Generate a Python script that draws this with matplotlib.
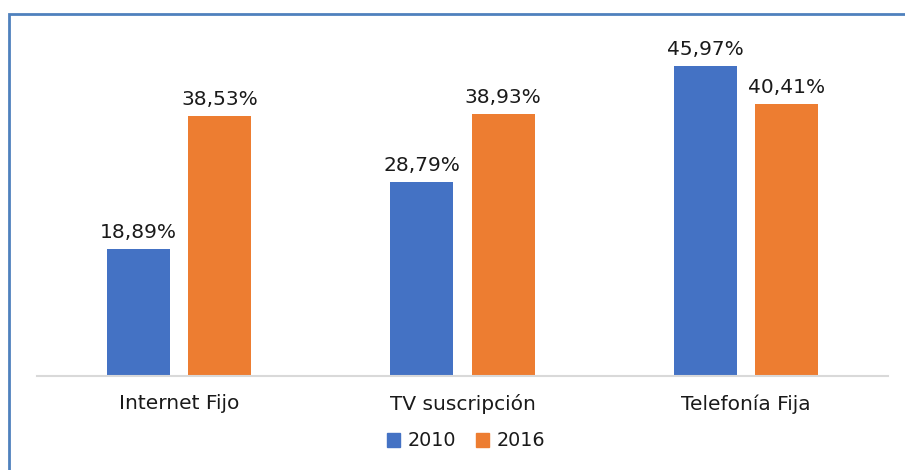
import matplotlib
matplotlib.use("Agg")
import matplotlib.pyplot as plt
from matplotlib.patches import Patch, Rectangle
import numpy as np

# Data
categories = ['Internet Fijo', 'TV suscripción', 'Telefonía Fija']
vals_2010 = [18.89, 28.79, 45.97]
vals_2016 = [38.53, 38.93, 40.41]
labels_2010 = ['18,89%', '28,79%', '45,97%']
labels_2016 = ['38,53%', '38,93%', '40,41%']

blue = '#4472C4'
orange = '#ED7D31'
txt = '#1a1a1a'

fig = plt.figure(figsize=(9.05, 4.70), dpi=100)
W, H = 905, 470
ax = fig.add_axes([37 / W, (H - 376) / H, (888 - 37) / W, (376 - 30) / H])

x = np.arange(len(categories))
width = 0.222
off = 0.143
b1 = ax.bar(x - off, vals_2010, width, color=blue)
b2 = ax.bar(x + off, vals_2016, width, color=orange)

for bars, labs in [(b1, labels_2010), (b2, labels_2016)]:
    for rect, lab in zip(bars, labs):
        ax.annotate(lab, (rect.get_x() + rect.get_width() / 2, rect.get_height()),
                    xytext=(0, 5), textcoords='offset points', ha='center', va='bottom',
                    fontsize=14.5, color=txt)

ax.set_xlim(-0.5, 2.5)
ax.set_ylim(0, (376 - 30) / 6.74)
ax.set_xticks(x)
ax.set_xticklabels(categories, fontsize=14.5, color=txt)
ax.tick_params(axis='x', length=0, pad=13)
ax.set_yticks([])
for s in ['top', 'right', 'left']:
    ax.spines[s].set_visible(False)
ax.spines['bottom'].set_color('#d9d9d9')
ax.spines['bottom'].set_linewidth(1.5)

# Legend
handles = [Patch(color=blue, label='2010'), Patch(color=orange, label='2016')]
fig.legend(handles=handles, loc='center', bbox_to_anchor=(466 / W, (H - 441) / H),
           ncol=2, frameon=False, fontsize=13.8, handlelength=0.7, handleheight=0.7,
           handletextpad=0.4, columnspacing=1.0, labelcolor=txt)

# Outer border (partially cropped in the original)
fig.add_artist(Rectangle((8.5 / W, -0.1), 1.2, (H - 13.5) / H + 0.1,
                         transform=fig.transFigure, fill=False,
                         edgecolor='#4F81BD', linewidth=2, clip_on=False))

fig.savefig('out.png', dpi=100)
